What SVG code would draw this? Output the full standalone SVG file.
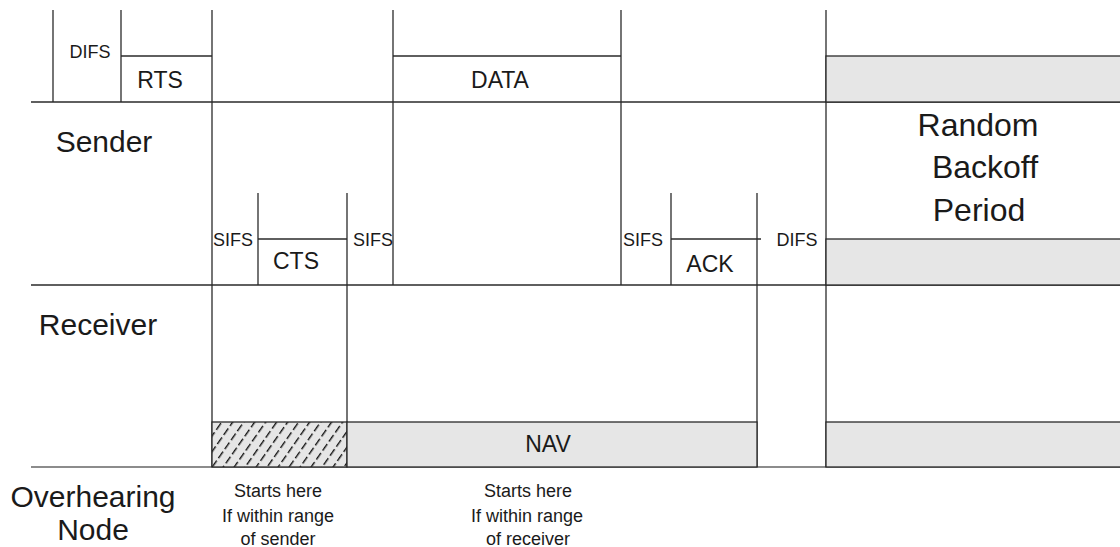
<svg xmlns="http://www.w3.org/2000/svg" width="1120" height="547" viewBox="0 0 1120 547">
<style>
.ln{stroke:#2a2a2a;stroke-width:1.3;fill:none}
.gl{stroke:#666;stroke-width:1.6;fill:none}
.box{fill:#e6e6e6;stroke:#2a2a2a;stroke-width:1.3}
.t{font-family:"Liberation Sans",Arial,sans-serif;fill:#1a1a1a;text-anchor:middle}
.s{font-size:18px}
.m{font-size:23px}
.l{font-size:30px}
.xl{font-size:32px}
.n{font-size:18px}
</style>
<defs>
<pattern id="hatch" patternUnits="userSpaceOnUse" width="9" height="11" patternTransform="rotate(35)">
<rect width="9" height="11" fill="#e6e6e6"/>
<line x1="0.7" y1="0" x2="0.7" y2="11" stroke="#111" stroke-width="1.4" stroke-dasharray="8,3"/>
</pattern>
</defs>
<g id="connectors">
<line class="ln" x1="31" y1="102" x2="1120" y2="102"/>
<line class="ln" x1="31" y1="285" x2="1120" y2="285"/>
<line class="gl" x1="31" y1="467" x2="1120" y2="467"/>
<line class="ln" x1="53" y1="10" x2="53" y2="102"/>
<line class="ln" x1="121" y1="10" x2="121" y2="102"/>
<line class="ln" x1="212" y1="10" x2="212" y2="467"/>
<line class="ln" x1="393" y1="10" x2="393" y2="285"/>
<line class="ln" x1="621" y1="10" x2="621" y2="285"/>
<line class="ln" x1="826" y1="10" x2="826" y2="467"/>
<line class="ln" x1="258" y1="193" x2="258" y2="285"/>
<line class="ln" x1="347" y1="193" x2="347" y2="467"/>
<line class="ln" x1="671" y1="193" x2="671" y2="285"/>
<line class="ln" x1="757" y1="193" x2="757" y2="467"/>
</g>
<g id="rts"><line class="ln" x1="121" y1="56" x2="212" y2="56"/><text class="t m" x="160" y="88">RTS</text></g>
<g id="difs1"><text class="t s" x="90" y="58">DIFS</text></g>
<g id="data"><line class="ln" x1="393" y1="56" x2="621" y2="56"/><text class="t m" x="500" y="88">DATA</text></g>
<g id="backoff-sender"><rect class="box" x="826" y="56" width="300" height="46"/></g>
<g id="backoff-receiver"><rect class="box" x="826" y="239" width="300" height="46"/></g>
<g id="backoff-node"><rect class="box" x="826" y="422" width="300" height="45"/></g>
<g id="backoff-label"><text class="t xl" x="978" y="136">Random</text><text class="t xl" x="985" y="178">Backoff</text><text class="t xl" x="979" y="221">Period</text></g>
<g id="sender"><text class="t l" x="104" y="152">Sender</text></g>
<g id="receiver"><text class="t l" x="98" y="335">Receiver</text></g>
<g id="overhearing"><text class="t l" x="93" y="507">Overhearing</text><text class="t l" x="93" y="540">Node</text></g>
<g id="sifs1"><text class="t s" x="233" y="246">SIFS</text></g>
<g id="cts"><line class="ln" x1="258" y1="239" x2="347" y2="239"/><text class="t m" x="296" y="269">CTS</text></g>
<g id="sifs2"><text class="t s" x="373" y="246">SIFS</text></g>
<g id="sifs3"><text class="t s" x="643" y="246">SIFS</text></g>
<g id="ack"><line class="ln" x1="671" y1="239" x2="761" y2="239"/><text class="t m" x="710" y="272">ACK</text></g>
<g id="difs2"><text class="t s" x="797" y="246">DIFS</text></g>
<g id="nav-hatched"><rect x="212" y="422" width="135" height="45" fill="url(#hatch)" stroke="#2a2a2a" stroke-width="1.3"/></g>
<g id="nav"><rect class="box" x="347" y="422" width="410" height="45"/><text class="t m" x="548" y="452">NAV</text></g>
<g id="note-sender"><text class="t n" x="278" y="497">Starts here</text><text class="t n" x="278" y="522">If within range</text><text class="t n" x="278" y="545">of sender</text></g>
<g id="note-receiver"><text class="t n" x="528" y="497">Starts here</text><text class="t n" x="527" y="522">If within range</text><text class="t n" x="528" y="545">of receiver</text></g>
</svg>
